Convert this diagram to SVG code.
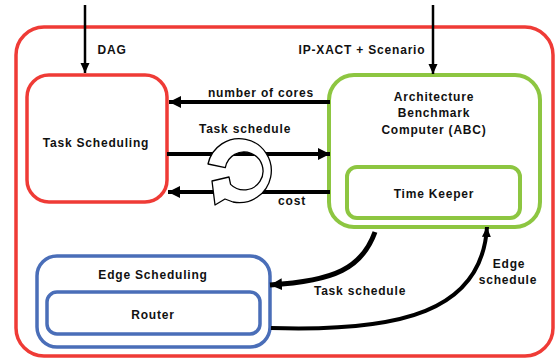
<svg xmlns="http://www.w3.org/2000/svg" width="556" height="358" viewBox="0 0 556 358">
<style>
text{font-family:"Liberation Sans",Arial,sans-serif;font-weight:bold;font-size:12px;letter-spacing:0.8px;fill:#111;text-anchor:middle}
.red{fill:none;stroke:#EF3B36;stroke-width:3.5}
.green{fill:none;stroke:#8DC641;stroke-width:4}
.blue{fill:none;stroke:#4A6EB8;stroke-width:3.5}
.ln{fill:none;stroke:#000}
</style>
<defs>
<marker id="ah" markerUnits="userSpaceOnUse" markerWidth="14" markerHeight="12" refX="12" refY="6" orient="auto"><path d="M0,0 L12,6 L0,12 Z" fill="#000"/></marker>
<marker id="ahs" markerUnits="userSpaceOnUse" markerWidth="12" markerHeight="10" refX="10" refY="5" orient="auto"><path d="M0,0.5 L10,5 L0,9.5 Z" fill="#000"/></marker>
</defs>
<g id="system"><rect class="red" x="16" y="27" width="537" height="329" rx="28"/></g>
<g id="task-scheduling"><rect class="red" x="27" y="75" width="140" height="127" rx="22"/><text x="96" y="147">Task Scheduling</text></g>
<g id="abc"><rect class="green" x="329" y="75" width="211" height="152" rx="25"/><text x="434" y="101">Architecture</text><text x="434" y="117">Benchmark</text><text x="434" y="134">Computer (ABC)</text></g>
<g id="time-keeper"><rect class="green" x="347" y="167" width="173" height="51" rx="10" stroke-width="3.5"/><text x="434" y="198">Time Keeper</text></g>
<g id="edge-scheduling"><rect class="blue" x="37" y="256" width="233" height="91" rx="20"/><text x="153" y="279">Edge Scheduling</text></g>
<g id="router"><rect class="blue" x="47" y="292" width="213" height="42" rx="10" stroke-width="3"/><text x="153" y="319">Router</text></g>
<g id="connectors">
<path class="ln" d="M85,5 V73" stroke-width="2.5" marker-end="url(#ahs)"/>
<path class="ln" d="M433,5 V74" stroke-width="2.5" marker-end="url(#ahs)"/>
<path class="ln" d="M330,102 H169" stroke-width="4" marker-end="url(#ah)"/>
<path class="ln" d="M167,154 H330" stroke-width="4" marker-end="url(#ah)"/>
<path class="ln" d="M330,192 H168" stroke-width="4" marker-end="url(#ah)"/>
<path class="ln" d="M375,232 C362,268 335,281 270,285" stroke-width="5" marker-end="url(#ah)"/>
<path class="ln" d="M271,328 C400,332 482,312 487,227" stroke-width="4" marker-end="url(#ahs)"/>
<path d="M208,164 A32,32 0 1 1 233,202 L225,199 L215,205 L212,181 L229,177 L230.6,184.4 A19,19 0 1 0 225.3,167.7 Z" fill="#fff" stroke="#000" stroke-width="1.3" stroke-linejoin="round"/>
<text x="112" y="54">DAG</text>
<text x="362" y="54">IP-XACT + Scenario</text>
<text x="261" y="97">number of cores</text>
<text x="245" y="133">Task schedule</text>
<text x="292" y="205">cost</text>
<text x="360" y="295">Task schedule</text>
<text x="509" y="268">Edge</text>
<text x="508" y="284">schedule</text>
</g>
</svg>
